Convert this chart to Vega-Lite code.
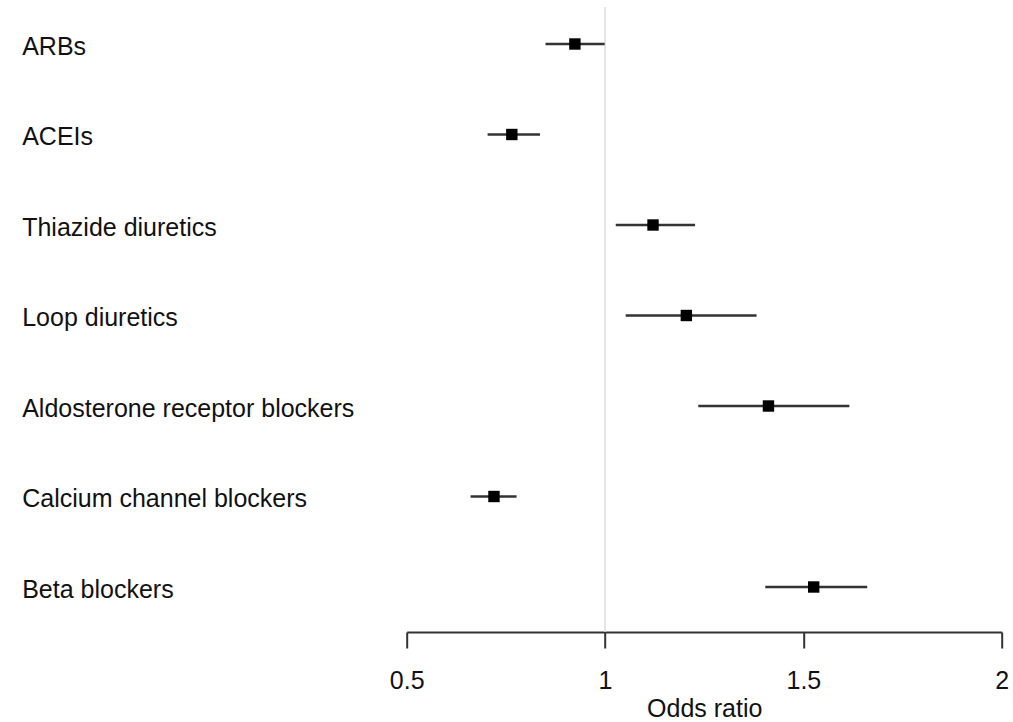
{
  "$schema": "https://vega.github.io/schema/vega-lite/v6.json",
  "autosize": {"type": "none"},
  "width": 595,
  "height": 625,
  "padding": {"left": 406.7, "top": 7, "right": 11.3, "bottom": 90},
  "background": "white",
  "config": {
    "view": {"stroke": null},
    "font": "Liberation Sans",
    "axisX": {
      "grid": false,
      "domainColor": "#333333",
      "domainWidth": 2,
      "tickColor": "#333333",
      "tickWidth": 2,
      "tickSize": 16,
      "labelFontSize": 25,
      "labelColor": "#111111",
      "labelPadding": 20,
      "labelFlush": false,
      "labelOverlap": false,
      "titleFontSize": 25,
      "titleFontWeight": "normal",
      "titleColor": "#111111",
      "titlePadding": 3
    },
    "axisY": {
      "grid": false,
      "domain": false,
      "ticks": false,
      "labelAlign": "left",
      "labelBaseline": "middle",
      "labelPadding": 385,
      "labelOffset": 2,
      "labelFontSize": 25,
      "labelColor": "#111111",
      "labelLimit": 500
    }
  },
  "data": {
    "values": [
      {"drug": "ARBs", "or": 0.924, "lo": 0.850, "hi": 0.999},
      {"drug": "ACEIs", "or": 0.765, "lo": 0.704, "hi": 0.836},
      {"drug": "Thiazide diuretics", "or": 1.121, "lo": 1.027, "hi": 1.227},
      {"drug": "Loop diuretics", "or": 1.205, "lo": 1.052, "hi": 1.382},
      {"drug": "Aldosterone receptor blockers", "or": 1.412, "lo": 1.235, "hi": 1.616},
      {"drug": "Calcium channel blockers", "or": 0.720, "lo": 0.661, "hi": 0.777},
      {"drug": "Beta blockers", "or": 1.526, "lo": 1.404, "hi": 1.661}
    ]
  },
  "layer": [
    {
      "data": {"values": [{"ref": 1}]},
      "mark": {"type": "rule", "color": "#dcdcdc", "strokeWidth": 1.5},
      "encoding": {
        "x": {"field": "ref", "type": "quantitative",
          "scale": {"domain": [0.5, 2], "nice": false, "zero": false},
          "axis": {"values": [0.5, 1, 1.5, 2], "format": "~g", "title": "Odds ratio"}}
      }
    },
    {
      "mark": {"type": "rule", "color": "#333333", "strokeWidth": 2.5},
      "encoding": {
        "x": {"field": "lo", "type": "quantitative",
          "axis": {"values": [0.5, 1, 1.5, 2], "format": "~g", "title": "Odds ratio"}},
        "x2": {"field": "hi"},
        "y": {"field": "drug", "type": "nominal", "sort": null,
          "scale": {"type": "point", "range": [37, 580], "padding": 0},
          "axis": {"title": null}}
      }
    },
    {
      "mark": {"type": "point", "shape": "square", "filled": true, "color": "#000000", "opacity": 1, "size": 130},
      "encoding": {
        "x": {"field": "or", "type": "quantitative"},
        "y": {"field": "drug", "type": "nominal", "sort": null}
      }
    }
  ]
}
